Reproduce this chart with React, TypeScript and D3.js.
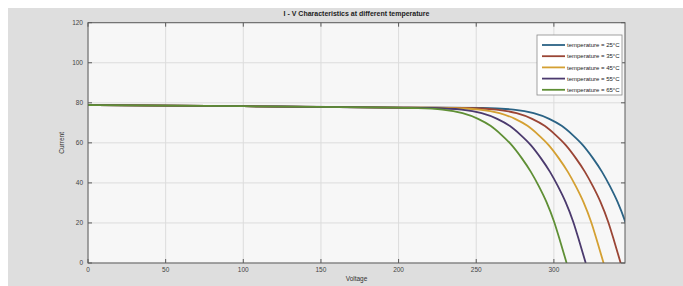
import React from 'react';
import * as d3 from 'd3';

const title = 'I - V Characteristics at different temperature';
const xTicks = [0, 50, 100, 150, 200, 250, 300];
const yTicks = [0, 20, 40, 60, 80, 100, 120];
const legendLabels = [
  'temperature = 25°C',
  'temperature = 35°C',
  'temperature = 45°C',
  'temperature = 55°C',
  'temperature = 65°C'
];
const colors = ['#2b6385', '#9a4535', '#d4a032', '#4b3a6e', '#5f8f35'];

// voltage samples and current readings, one pair of arrays per temperature
const v25 = [0, 100, 200, 254, 274, 287, 297, 305, 312, 318.5, 325, 331, 336, 341, 346, 350, 354];
const i25 = [78.9, 78.3, 77.6, 77.4, 76.6, 74.8, 72, 68.5, 64, 59, 52.5, 45.5, 38.5, 30.5, 20.5, 10.5, 0];
const v35 = [0, 100, 200, 243, 263, 276, 286, 294, 301, 307.5, 314, 320, 325, 330, 335, 339, 343];
const i35 = [78.9, 78.3, 77.6, 77.4, 76.6, 74.8, 72, 68.5, 64, 59, 52.5, 45.5, 38.5, 30.5, 20.5, 10.5, 0];
const v45 = [0, 100, 200, 232, 252, 265, 275, 283, 290, 296.5, 303, 309, 314, 319, 324, 328, 332];
const i45 = [78.9, 78.3, 77.6, 77.4, 76.6, 74.8, 72, 68.5, 64, 59, 52.5, 45.5, 38.5, 30.5, 20.5, 10.5, 0];
const v55 = [0, 100, 200, 220.5, 240.5, 253.5, 263.5, 271.5, 278.5, 285, 291.5, 297.5, 302.5, 307.5, 312.5, 316.5, 320.5];
const i55 = [78.9, 78.3, 77.6, 77.4, 76.6, 74.8, 72, 68.5, 64, 59, 52.5, 45.5, 38.5, 30.5, 20.5, 10.5, 0];
const v65 = [0, 100, 200, 208.2, 228.2, 241.2, 251.2, 259.2, 266.2, 272.7, 279.2, 285.2, 290.2, 295.2, 300.2, 304.2, 308.2];
const i65 = [78.9, 78.3, 77.6, 77.4, 76.6, 74.8, 72, 68.5, 64, 59, 52.5, 45.5, 38.5, 30.5, 20.5, 10.5, 0];

const series = [
  v25.map((v, k) => [v, i25[k]]),
  v35.map((v, k) => [v, i35[k]]),
  v45.map((v, k) => [v, i45[k]]),
  v55.map((v, k) => [v, i55[k]]),
  v65.map((v, k) => [v, i65[k]])
];

const W = 683;
const H = 286;
const left = 88, right = 625, top = 22.7, bottom = 263;

const App = () => {
  const x = d3.scaleLinear().domain([0, 345.8]).range([left, right]);
  const y = d3.scaleLinear().domain([0, 120]).range([bottom, top]);
  const line = d3.line<number[]>()
    .x(d => x(d[0]))
    .y(d => y(d[1]))
    .curve(d3.curveMonotoneX);

  const font = '"Liberation Sans", Arial, sans-serif';
  const tickColor = '#444';

  return (
    <svg width={W} height={H} style={{ position: 'absolute', left: 0, top: 0 }} fontFamily={font}>
      <rect x={0} y={0} width={W} height={H} fill="#ffffff" />
      <rect x={8} y={8} width={W - 8} height={H - 8} fill="#dedede" />
      <rect x={left} y={top} width={right - left} height={bottom - top} fill="#f7f7f7" />
      <defs>
        <clipPath id="plot">
          <rect x={left} y={top} width={right - left} height={bottom - top} />
        </clipPath>
      </defs>
      {/* grid */}
      {xTicks.map(t => (
        <line key={'gx' + t} x1={x(t)} x2={x(t)} y1={top} y2={bottom} stroke="#dcdcdc" strokeWidth={1} />
      ))}
      {yTicks.map(t => (
        <line key={'gy' + t} x1={left} x2={right} y1={y(t)} y2={y(t)} stroke="#dcdcdc" strokeWidth={1} />
      ))}
      {/* curves */}
      <g clipPath="url(#plot)">
        {series.map((s, i) => (
          <path key={i} d={line(s) || ''} fill="none" stroke={colors[i]} strokeWidth={1.8} />
        ))}
      </g>
      {/* box */}
      <rect x={left} y={top} width={right - left} height={bottom - top} fill="none" stroke="#5a5a5a" strokeWidth={1} />
      {xTicks.map(t => (
        <g key={'tx' + t}>
          <line x1={x(t)} x2={x(t)} y1={bottom} y2={bottom - 4} stroke="#5a5a5a" />
          <line x1={x(t)} x2={x(t)} y1={top} y2={top + 4} stroke="#5a5a5a" />
          <text x={x(t)} y={bottom + 9} fontSize={6.5} fill={tickColor} textAnchor="middle">{t}</text>
        </g>
      ))}
      {yTicks.map(t => (
        <g key={'ty' + t}>
          <line x1={left} x2={left + 4} y1={y(t)} y2={y(t)} stroke="#5a5a5a" />
          <line x1={right} x2={right - 4} y1={y(t)} y2={y(t)} stroke="#5a5a5a" />
          <text x={left - 5} y={y(t) + 2.3} fontSize={6.5} fill={tickColor} textAnchor="end">{t}</text>
        </g>
      ))}
      <text x={(left + right) / 2} y={16} fontSize={7} fontWeight="bold" fill="#222" textAnchor="middle">{title}</text>
      <text x={(left + right) / 2} y={281} fontSize={6.5} fill="#333" textAnchor="middle">Voltage</text>
      <text transform={`translate(64,${(top + bottom) / 2}) rotate(-90)`} fontSize={6.5} fill="#333" textAnchor="middle">Current</text>
      {/* legend */}
      <rect x={537} y={35} width={85} height={60} fill="#ffffff" stroke="#8a8a8a" strokeWidth={0.8} />
      {legendLabels.map((l, i) => (
        <g key={l}>
          <line x1={542} x2={565} y1={45 + i * 11.2} y2={45 + i * 11.2} stroke={colors[i]} strokeWidth={1.8} />
          <text x={567} y={47.2 + i * 11.2} fontSize={6} fill="#222">{l}</text>
        </g>
      ))}
    </svg>
  );
};

export default App;
